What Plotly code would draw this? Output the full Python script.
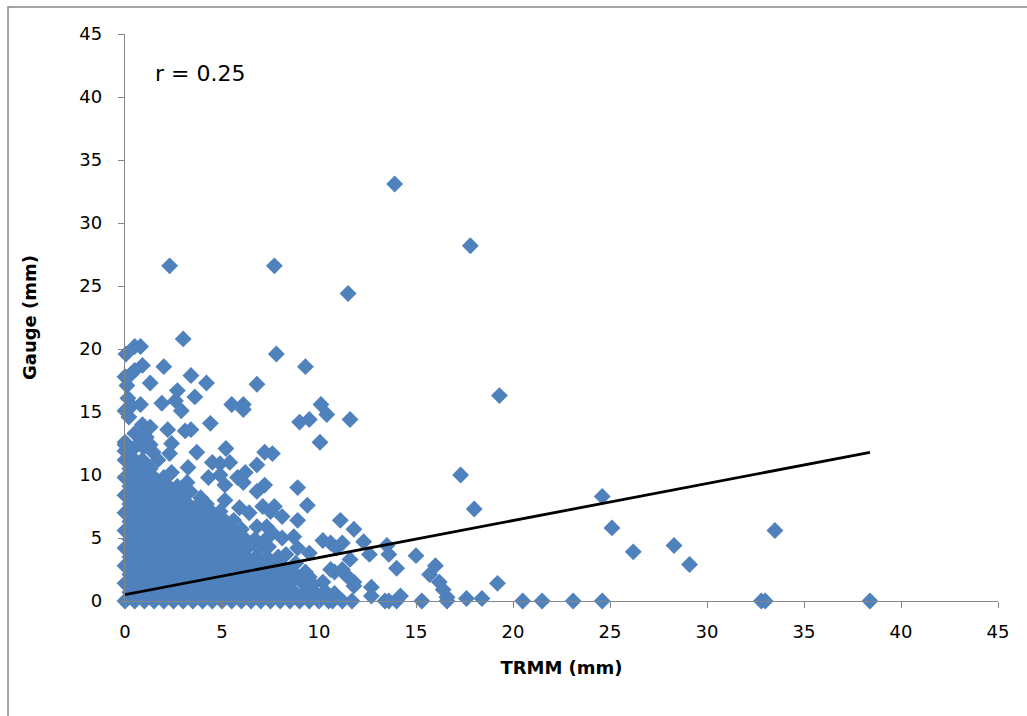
import plotly.graph_objects as go

# ---------------- data ----------------
# sparse / outlying points: (TRMM mm, Gauge mm)
sparse_points = [
    (13.9, 33.1), (17.8, 28.2), (2.3, 26.6), (7.7, 26.6), (11.5, 24.4), (3.0, 20.8),
    (0.5, 20.2), (0.8, 20.2), (0.05, 19.6), (7.8, 19.6), (9.3, 18.6),
    (0.9, 18.7), (0.5, 18.3), (0.3, 18.0), (2.0, 18.6), (0.0, 17.8), (3.4, 17.9),
    (1.3, 17.3), (0.1, 17.1), (4.2, 17.3), (6.8, 17.2),
    (2.7, 16.7), (2.6, 15.9), (3.6, 16.2), (1.9, 15.7), (0.15, 16.1), (0.35, 15.5),
    (0.0, 15.1), (0.8, 15.6), (2.9, 15.1), (0.2, 14.6),
    (5.5, 15.6), (6.1, 15.6), (6.1, 15.2), (4.4, 14.1), (9.0, 14.2), (9.5, 14.4),
    (10.1, 15.6), (10.4, 14.8), (11.6, 14.4), (19.3, 16.3),
    (0.9, 14.0), (1.3, 13.8), (2.2, 13.6), (3.1, 13.5), (3.4, 13.6), (10.05, 12.6),
    (0.5, 13.3), (0.8, 13.0), (1.1, 13.0), (1.3, 12.4), (0.0, 12.4), (0.3, 12.0),
    (0.7, 12.5), (0.95, 12.2), (1.45, 11.8),
    (2.4, 12.5), (2.3, 11.7), (3.7, 11.8), (5.2, 12.1), (7.2, 11.8), (7.6, 11.7), (6.8, 10.8),
    (4.5, 11.0), (4.9, 10.9), (5.4, 11.0), (3.25, 10.6), (1.7, 11.2), (0.5, 11.0), (1.0, 10.8),
    (2.4, 10.2), (4.3, 9.8), (4.9, 10.0), (5.15, 9.2), (5.8, 9.8), (6.2, 10.2), (6.1, 9.4),
    (7.2, 9.2), (3.2, 9.4), (3.35, 8.7),
    (8.9, 9.0), (6.8, 8.7), (9.4, 7.6), (3.9, 8.2), (5.15, 8.0), (5.9, 7.4), (6.4, 7.0),
    (7.1, 7.5), (7.5, 7.1), (7.7, 7.5),
    (8.1, 6.7), (8.9, 6.4), (6.8, 5.9), (7.3, 5.9), (7.6, 5.4), (8.1, 5.0), (8.7, 5.1),
    (8.9, 4.2), (9.5, 3.8), (10.2, 4.8), (8.1, 2.7), (8.8, 3.0), (9.0, 1.7), (9.5, 1.9),
    (10.2, 0.6), (9.4, 0.6),
    (11.1, 6.4), (11.8, 5.7), (12.3, 4.7), (10.6, 4.6), (10.9, 4.2), (11.2, 4.6),
    (13.5, 4.4), (13.6, 3.7), (12.6, 3.7), (11.6, 3.3),
    (10.8, 2.3), (11.3, 2.2), (11.5, 1.9), (11.8, 1.5), (14.0, 2.6), (15.0, 3.6),
    (16.0, 2.8), (15.7, 2.1), (16.2, 1.5), (16.4, 0.9), (16.6, 0.3),
    (12.7, 1.1), (14.2, 0.4), (19.2, 1.4), (17.6, 0.2), (18.4, 0.2),
    (17.3, 10.0), (18.0, 7.3), (24.6, 8.3), (25.1, 5.8), (26.2, 3.9), (28.3, 4.4),
    (29.1, 2.9), (33.5, 5.6), (10.6, 2.5), (11.2, 2.5), (11.8, 1.2), (12.7, 0.4),
    (7.4, 4.3), (6.7, 4.9), (7.2, 4.8), (6.0, 5.7), (8.0, 2.9), (8.5, 2.5),
    (7.9, 3.5), (8.3, 3.7), (8.8, 2.1), (9.3, 2.3), (9.7, 1.3), (10.2, 1.5),
    (10.3, 0.8), (10.8, 0.6), (5.6, 6.4), (4.9, 7.1), (4.2, 7.7),
]

# points lying on the zero gauge line beyond the dense cluster
zero_row_trmm = [10.5, 10.7, 11.2, 11.7, 13.4, 13.6, 14.0, 15.3, 16.6,
                 20.5, 21.5, 23.1, 24.6, 32.8, 33.0, 38.4]

# dense cluster, read row by row: (gauge level, TRMM values on that row)
cluster_rows = [
    (0.0,  [0, 0.5, 1, 1.5, 2, 2.5, 3, 3.5, 4, 4.5, 5, 5.5, 6, 6.5, 7, 7.5, 8, 8.5, 9, 9.5, 10]),
    (0.7,  [0.25, 0.75, 1.25, 1.75, 2.25, 2.75, 3.25, 3.75, 4.25, 4.75, 5.25, 5.75, 6.25, 6.75, 7.25, 7.75, 8.25, 8.75, 9.25, 9.75]),
    (1.4,  [0, 0.5, 1, 1.5, 2, 2.5, 3, 3.5, 4, 4.5, 5, 5.5, 6, 6.5, 7, 7.5, 8, 8.5, 9.2]),
    (2.1,  [0.25, 0.75, 1.25, 1.75, 2.25, 2.75, 3.25, 3.75, 4.25, 4.75, 5.25, 5.75, 6.25, 6.75, 7.25, 7.75, 8.3]),
    (2.8,  [0, 0.5, 1, 1.5, 2, 2.5, 3, 3.5, 4, 4.5, 5, 5.5, 6, 6.5, 7, 7.5]),
    (3.5,  [0.25, 0.75, 1.25, 1.75, 2.25, 2.75, 3.25, 3.75, 4.25, 4.75, 5.25, 5.75, 6.25, 6.75, 7.3]),
    (4.2,  [0, 0.5, 1, 1.5, 2, 2.5, 3, 3.5, 4, 4.5, 5, 5.5, 6, 6.3, 6.9]),
    (4.9,  [0.25, 0.75, 1.25, 1.75, 2.25, 2.75, 3.25, 3.75, 4.25, 4.75, 5.25, 5.75, 6.2]),
    (5.6,  [0, 0.5, 1, 1.5, 2, 2.5, 3, 3.5, 4, 4.5, 5, 5.5]),
    (6.3,  [0.25, 0.75, 1.25, 1.75, 2.25, 2.75, 3.25, 3.75, 4.25, 4.75, 5.2]),
    (7.0,  [0, 0.5, 1, 1.5, 2, 2.5, 3, 3.5, 4, 4.5]),
    (7.7,  [0.25, 0.75, 1.25, 1.75, 2.25, 2.75, 3.25, 3.8]),
    (8.4,  [0, 0.5, 1, 1.5, 2, 2.5, 3.0]),
    (9.1,  [0.25, 0.75, 1.25, 1.75, 2.25, 2.7]),
    (9.8,  [0, 0.5, 1, 1.5, 2.0]),
    (10.5, [0.25, 0.75, 1.3]),
    (11.2, [0, 0.5, 0.9]),
    (11.9, [0, 0.3]),
    (12.6, [0]),
]

# linear trend line end points
trend_trmm = [0.0, 38.4]
trend_gauge = [0.5, 11.8]

r_label = "r = 0.25"
x_title = "TRMM (mm)"
y_title = "Gauge (mm)"
axis_ticks = [0, 5, 10, 15, 20, 25, 30, 35, 40, 45]

# ---------------- assemble ----------------
trmm = []
gauge = []
for g, xs in cluster_rows:
    for x in xs:
        trmm.append(x)
        gauge.append(g)
for x, g in sparse_points:
    trmm.append(x)
    gauge.append(g)
for x in zero_row_trmm:
    trmm.append(x)
    gauge.append(0.0)

BLUE = "#4F81BD"
GREY = "#868686"
FONT = "DejaVu Sans"

fig = go.Figure()
fig.add_trace(go.Scatter(
    x=trmm, y=gauge, mode="markers",
    marker=dict(symbol="diamond", size=13, color=BLUE, line=dict(width=0)),
    cliponaxis=False, showlegend=False, hoverinfo="skip",
))
fig.add_trace(go.Scatter(
    x=trend_trmm, y=trend_gauge, mode="lines",
    line=dict(color="black", width=2.8),
    cliponaxis=False, showlegend=False, hoverinfo="skip",
))

axis_common = dict(
    range=[0, 45], tickvals=axis_ticks, ticktext=[str(v) for v in axis_ticks],
    showgrid=False, zeroline=False, showline=True, linecolor=GREY, linewidth=1.3,
    ticks="outside", ticklen=6, tickcolor=GREY, tickwidth=1.3,
    tickfont=dict(family=FONT, size=18, color="black"),
    automargin=False, fixedrange=True,
)

fig.update_layout(
    width=1027, height=716,
    margin=dict(l=125, r=29, t=34, b=115),
    paper_bgcolor="white", plot_bgcolor="white",
    xaxis=dict(**axis_common, ticklabelstandoff=8,
               title=dict(text=x_title, font=dict(family=FONT, size=18, color="black"),
                          standoff=20)),
    yaxis=dict(**axis_common, ticklabelstandoff=12,
               title=dict(text=y_title, font=dict(family=FONT, size=18, color="black"),
                          standoff=38)),
    annotations=[dict(
        x=1.45, y=41.9, xref="x", yref="y", text=r_label, showarrow=False,
        xanchor="left", yanchor="middle",
        font=dict(family=FONT, size=22, color="black"),
    )],
    shapes=[dict(
        type="rect", xref="paper", yref="paper",
        x0=-0.134, x1=1.2, y0=-0.4, y1=1.0476,
        line=dict(color=GREY, width=1.5), fillcolor="rgba(0,0,0,0)", layer="below",
    )],
)
fig.update_xaxes(title_font_weight="bold")
fig.update_yaxes(title_font_weight="bold")

fig.write_html("out.html")
